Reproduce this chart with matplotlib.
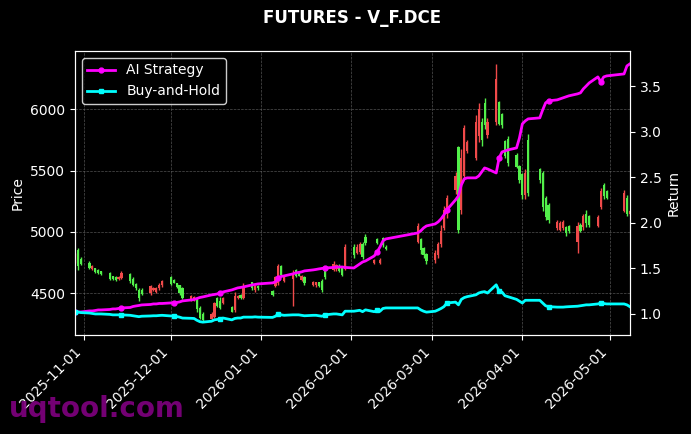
import numpy as np
import pandas as pd
import matplotlib
matplotlib.use('Agg')
import matplotlib.pyplot as plt
import matplotlib.dates as mdates

# trading days shown on the chart
dates = pd.to_datetime([
    '2025-10-29', '2025-10-30', '2025-10-31',
    '2025-11-03', '2025-11-04', '2025-11-05', '2025-11-06', '2025-11-07',
    '2025-11-10', '2025-11-11', '2025-11-12', '2025-11-13', '2025-11-14',
    '2025-11-17', '2025-11-18', '2025-11-19', '2025-11-20', '2025-11-21',
    '2025-11-24', '2025-11-25', '2025-11-26', '2025-11-27', '2025-11-28',
    '2025-12-01', '2025-12-02', '2025-12-03', '2025-12-04', '2025-12-05',
    '2025-12-08', '2025-12-09', '2025-12-10', '2025-12-11', '2025-12-12',
    '2025-12-15', '2025-12-16', '2025-12-17', '2025-12-18', '2025-12-19',
    '2025-12-22', '2025-12-23', '2025-12-24', '2025-12-25', '2025-12-26',
    '2025-12-29', '2025-12-30', '2025-12-31',
    '2026-01-05', '2026-01-06', '2026-01-07', '2026-01-08', '2026-01-09',
    '2026-01-12', '2026-01-13', '2026-01-14', '2026-01-15', '2026-01-16',
    '2026-01-19', '2026-01-20', '2026-01-21', '2026-01-22', '2026-01-23',
    '2026-01-26', '2026-01-27', '2026-01-28', '2026-01-29', '2026-01-30',
    '2026-02-02', '2026-02-03', '2026-02-04', '2026-02-05', '2026-02-06',
    '2026-02-09', '2026-02-10', '2026-02-11', '2026-02-12', '2026-02-13',
    '2026-02-24', '2026-02-25', '2026-02-26', '2026-02-27',
    '2026-03-02', '2026-03-03', '2026-03-04', '2026-03-05', '2026-03-06',
    '2026-03-09', '2026-03-10', '2026-03-11', '2026-03-12', '2026-03-13',
    '2026-03-16', '2026-03-17', '2026-03-18', '2026-03-19', '2026-03-20',
    '2026-03-23', '2026-03-24', '2026-03-25', '2026-03-26', '2026-03-27',
    '2026-03-30', '2026-03-31', '2026-04-01', '2026-04-02', '2026-04-03',
    '2026-04-07', '2026-04-08', '2026-04-09', '2026-04-10',
    '2026-04-13', '2026-04-14', '2026-04-15', '2026-04-16', '2026-04-17',
    '2026-04-20', '2026-04-21', '2026-04-22', '2026-04-23', '2026-04-24',
    '2026-04-27', '2026-04-28', '2026-04-29', '2026-04-30',
    '2026-05-06', '2026-05-07', '2026-05-08',
])

opens = [4760, 4850, 4780,
         4750, 4700, 4705, 4690, 4680,
         4665, 4640, 4630, 4615, 4625,
         4660, 4620, 4575, 4530, 4530,
         4500, 4525, 4510, 4540, 4570,
         4630, 4610, 4580, 4565, 4540,
         4445, 4450, 4460, 4380, 4330,
         4290, 4310, 4460, 4440, 4420,
         4390, 4360, 4460, 4490, 4460,
         4590, 4530, 4560,
         4520, 4560, 4580, 4720, 4600,
         4620, 4690, 4670, 4610, 4630,
         4570, 4565, 4590, 4600, 4680,
         4690, 4700, 4720, 4710, 4700,
         4880, 4830, 4840, 4900, 4960,
         4745, 4940, 4745, 4950, 4880,
         4920, 4940, 4870, 4820,
         4770, 4810, 4900, 5030, 5150,
         5340, 5690, 5180, 5460, 5660,
         5600, 5780, 5900, 6050, 5790,
         5900, 6060, 5960, 5740, 5760,
         5630, 5540, 5470, 5300, 5750,
         5510, 5480, 5280, 5220,
         5030, 5020, 5030, 5040, 5050,
         4920, 5060, 5040, 5150, 5130,
         5050, 5200, 5380, 5330,
         5170, 5280, 5150]
highs = [4830, 4870, 4800,
         4760, 4730, 4710, 4700, 4685,
         4670, 4645, 4640, 4645, 4680,
         4665, 4630, 4580, 4545, 4540,
         4570, 4555, 4555, 4580, 4610,
         4640, 4620, 4585, 4570, 4550,
         4485, 4480, 4470, 4395, 4345,
         4345, 4430, 4470, 4470, 4470,
         4395, 4510, 4490, 4495, 4580,
         4595, 4570, 4570,
         4530, 4640, 4740, 4730, 4640,
         4690, 4700, 4680, 4650, 4640,
         4600, 4595, 4595, 4620, 4690,
         4760, 4740, 4735, 4720, 4900,
         4900, 4900, 4915, 4920, 4980,
         4780, 4950, 4785, 4960, 4890,
         5070, 4950, 4880, 4830,
         4850, 4920, 5060, 5210, 5300,
         5490, 5700, 5680, 5870, 5750,
         5950, 6050, 5930, 6090, 5930,
         6370, 6070, 5970, 5750, 5780,
         5640, 5545, 5480, 5510, 5800,
         5520, 5500, 5290, 5240,
         5100, 5090, 5100, 5050, 5060,
         5080, 5070, 5150, 5180, 5140,
         5140, 5360, 5400, 5340,
         5340, 5300, 5180]
lows = [4745, 4690, 4730,
        4700, 4690, 4665, 4660, 4650,
        4610, 4610, 4600, 4605, 4615,
        4585, 4560, 4530, 4440, 4490,
        4490, 4515, 4500, 4530, 4555,
        4570, 4580, 4540, 4490, 4450,
        4435, 4440, 4345, 4290, 4265,
        4275, 4300, 4390, 4370, 4410,
        4345, 4345, 4450, 4450, 4450,
        4530, 4510, 4530,
        4480, 4550, 4570, 4640, 4590,
        4400, 4630, 4640, 4600, 4570,
        4560, 4555, 4550, 4510, 4620,
        4680, 4680, 4670, 4640, 4690,
        4790, 4820, 4820, 4780, 4890,
        4740, 4900, 4735, 4880, 4850,
        4910, 4820, 4790, 4740,
        4750, 4790, 4880, 5020, 5110,
        5310, 4990, 5150, 5430, 5640,
        5590, 5730, 5700, 5840, 5770,
        5870, 5870, 5850, 5600, 5540,
        5520, 5400, 5270, 5270, 5290,
        5400, 5170, 5100, 5070,
        5020, 5010, 5020, 4970, 4990,
        4830, 5000, 5020, 5040, 5040,
        5040, 5190, 5270, 5270,
        5160, 5130, 5140]
closes = [4810, 4720, 4740,
          4710, 4720, 4675, 4665, 4660,
          4620, 4615, 4610, 4635, 4665,
          4600, 4570, 4540, 4460, 4495,
          4560, 4545, 4540, 4565, 4600,
          4575, 4585, 4550, 4505, 4460,
          4475, 4470, 4370, 4300, 4280,
          4330, 4420, 4400, 4380, 4460,
          4350, 4480, 4480, 4460, 4560,
          4540, 4560, 4540,
          4490, 4630, 4720, 4650, 4630,
          4660, 4640, 4645, 4640, 4580,
          4590, 4590, 4560, 4530, 4630,
          4740, 4730, 4680, 4650, 4880,
          4810, 4880, 4900, 4800, 4910,
          4770, 4910, 4775, 4890, 4860,
          5050, 4850, 4810, 4760,
          4830, 4900, 5010, 5180, 5280,
          5460, 5020, 5600, 5850, 5730,
          5900, 6000, 5750, 5870, 5900,
          6250, 5880, 5870, 5620, 5560,
          5530, 5420, 5300, 5480, 5320,
          5420, 5200, 5120, 5100,
          5080, 5070, 5080, 4990, 5010,
          5050, 5010, 5130, 5070, 5060,
          5120, 5330, 5290, 5280,
          5320, 5150, 5170]

# cumulative return series (right axis)
ai_strategy = [1.022, 1.022, 1.022,
               1.033, 1.033, 1.038, 1.044, 1.044,
               1.049, 1.055, 1.055, 1.060, 1.066,
               1.071, 1.082, 1.088, 1.093, 1.099,
               1.104, 1.110, 1.110, 1.115, 1.115,
               1.121, 1.121, 1.126, 1.132, 1.143,
               1.154, 1.159, 1.170, 1.181, 1.187,
               1.209, 1.214, 1.220, 1.231, 1.242,
               1.264, 1.275, 1.286, 1.291, 1.297,
               1.319, 1.324, 1.330,
               1.341, 1.352, 1.396, 1.412, 1.418,
               1.440, 1.451, 1.456, 1.462, 1.473,
               1.484, 1.489, 1.495, 1.500, 1.505,
               1.511, 1.516, 1.516, 1.516, 1.511,
               1.505, 1.527, 1.549, 1.571, 1.582,
               1.637, 1.681, 1.736, 1.802, 1.824,
               1.890, 1.912, 1.945, 1.967,
               1.989, 2.011, 2.044, 2.088, 2.143,
               2.253, 2.297, 2.418, 2.484, 2.495,
               2.495, 2.516, 2.560, 2.604, 2.593,
               2.549, 2.714, 2.780, 2.791, 2.802,
               2.824, 2.934, 3.088, 3.121, 3.143,
               3.154, 3.242, 3.319, 3.341,
               3.352, 3.363, 3.374, 3.385, 3.396,
               3.418, 3.429, 3.473, 3.505, 3.538,
               3.604, 3.549, 3.604, 3.615,
               3.637, 3.725, 3.747]
buy_and_hold = [1.022, 1.022, 1.015,
                1.010, 1.005, 1.000, 1.000, 1.000,
                0.995, 0.990, 0.990, 0.990, 0.990,
                0.985, 0.980, 0.975, 0.970, 0.975,
                0.978, 0.980, 0.980, 0.983, 0.985,
                0.978, 0.978, 0.972, 0.965, 0.955,
                0.952, 0.950, 0.930, 0.915, 0.910,
                0.920, 0.935, 0.940, 0.945, 0.955,
                0.935, 0.950, 0.955, 0.955, 0.965,
                0.965, 0.968, 0.965,
                0.962, 0.975, 1.000, 0.990, 0.985,
                0.990, 0.990, 0.990, 0.985, 0.980,
                0.985, 0.985, 0.980, 0.975, 0.990,
                1.000, 1.000, 0.995, 0.990, 1.030,
                1.030, 1.035, 1.040, 1.025, 1.045,
                1.025, 1.040, 1.030, 1.060, 1.066,
                1.066, 1.045, 1.030, 1.020,
                1.030, 1.044, 1.060, 1.080, 1.120,
                1.130, 1.100, 1.160, 1.180, 1.190,
                1.210, 1.230, 1.240, 1.245, 1.230,
                1.320, 1.250, 1.240, 1.200, 1.190,
                1.160, 1.140, 1.120, 1.150, 1.150,
                1.150, 1.120, 1.090, 1.080,
                1.075, 1.075, 1.075, 1.078, 1.080,
                1.085, 1.090, 1.095, 1.100, 1.100,
                1.110, 1.120, 1.115, 1.110,
                1.110, 1.100, 1.080]

UP = '#f04a4a'
DOWN = '#52f04a'


def main():
    fig = plt.figure(figsize=(6.91, 4.34), dpi=100, facecolor='black')
    ax = fig.add_axes([0.1085, 0.228, 0.803, 0.6545], facecolor='black')

    x = mdates.date2num(dates)
    o = np.array(opens)
    h = np.array(highs)
    l = np.array(lows)
    c = np.array(closes)
    cols = [UP if cc >= oo else DOWN for oo, cc in zip(o, c)]

    # candles: wick + body
    ax.vlines(x, l, h, colors=cols, linewidth=1, zorder=2)
    ax.bar(x, np.abs(c - o), bottom=np.minimum(o, c), width=0.75,
           color=cols, edgecolor=cols, linewidth=0, zorder=3)

    ax.set_ylabel('Price', color='white')
    ax.set_xlim(x[0], x[-1])
    ax.xaxis.set_major_locator(mdates.MonthLocator())
    ax.xaxis.set_major_formatter(mdates.DateFormatter('%Y-%m-%d'))
    plt.setp(ax.get_xticklabels(), rotation=45, ha='right')
    ax.grid(True, color='#666666', linestyle='--', linewidth=0.5, alpha=0.8)

    ax2 = ax.twinx()
    ax2.patch.set_visible(False)
    ax2.plot(x, ai_strategy, color='#ff00ff', linewidth=2, marker='o',
             markersize=3.5, markevery=12, label='AI Strategy')
    ax2.plot(x, buy_and_hold, color='#00ffff', linewidth=2, marker='s',
             markersize=3.5, markevery=12, label='Buy-and-Hold')
    ax2.set_ylabel('Return', color='white')
    ax2.set_xlim(x[0], x[-1])

    for a in (ax, ax2):
        a.tick_params(colors='white')
        for s in a.spines.values():
            s.set_color('white')

    leg = ax2.legend(loc='upper left', facecolor='black', edgecolor='white')
    for t in leg.get_texts():
        t.set_color('white')

    fig.text(0.51, 0.958, 'FUTURES - V_F.DCE', color='white', fontsize=12,
             fontweight='bold', ha='center', va='center')
    fig.text(0.013, 0.04, 'uqtool.com', color='purple', fontsize=20,
             fontweight='bold', alpha=0.9)

    fig.savefig('out.png', dpi=100, facecolor='black')


if __name__ == '__main__':
    main()
